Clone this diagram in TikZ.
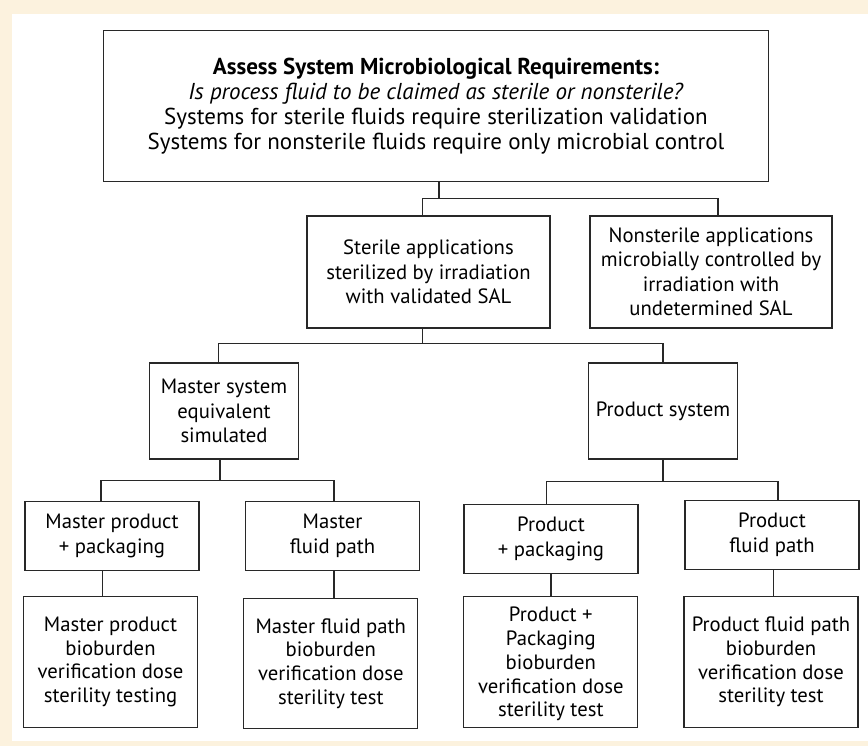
\documentclass[tikz,border=0pt]{standalone}
\usepackage{fontspec}
\setmainfont{PT Sans}
\definecolor{cream}{RGB}{252,242,222}
\definecolor{edge}{RGB}{40,40,40}
\begin{document}
\begin{tikzpicture}[x=1pt,y=1pt,
  box/.style={draw=edge,line width=1.3pt,fill=white,inner sep=0pt,align=center,
    font=\fontsize{20.7}{24.5}\selectfont},
  tall/.style={font=\fontsize{20.7}{23.8}\selectfont},
  conn/.style={draw=edge,line width=1.2pt}]
\useasboundingbox (0,0) rectangle (868,-746);
\fill[cream] (0,0) rectangle (868,-746);
\fill[white] (12,-14) rectangle (868,-741);

\node[box,minimum width=664.5,minimum height=151,font=\fontsize{23}{25}\selectfont] (top) at (436,-106)
  {\textbf{Assess System Microbiological Requirements:}\\
   \textit{Is process fluid to be claimed as sterile or nonsterile?}\\
   Systems for sterile fluids require sterilization validation\\
   Systems for nonsterile fluids require only microbial control};

\node[box,minimum width=243,minimum height=112] (sterile) at (428.5,-272)
  {Sterile applications\\sterilized by irradiation\\with validated SAL};
\node[box,minimum width=242,minimum height=112] (nonsterile) at (711,-272)
  {Nonsterile applications\\microbially controlled by\\irradiation with\\undetermined SAL};

\node[box,minimum width=149.5,minimum height=96] (master) at (224,-411)
  {Master system\\equivalent\\simulated};
\node[box,minimum width=149.5,minimum height=96] (product) at (663,-411)
  {Product system};

\node[box,minimum width=174,minimum height=69] (mpp) at (112,-536)
  {Master product\\+ packaging};
\node[box,minimum width=174,minimum height=69] (mfp) at (332.5,-536)
  {Master\\fluid path};
\node[box,minimum width=174,minimum height=69] (ppp) at (551,-538.7)
  {Product\\+ packaging};
\node[box,minimum width=174,minimum height=69] (pfp) at (772,-534.7)
  {Product\\fluid path};

\node[box,tall,minimum width=174,minimum height=130.6] (mpb) at (110.5,-662)
  {Master product\\bioburden\\verification dose\\sterility testing};
\node[box,tall,minimum width=174,minimum height=130.6] (mfb) at (330.8,-663.5)
  {Master fluid path\\bioburden\\verification dose\\sterility test};
\node[box,tall,minimum width=174,minimum height=130.6,text depth=0pt] (ppb) at (550.8,-662)
  {Product +\\Packaging\\bioburden\\verification dose\\sterility test};
\node[box,tall,minimum width=174,minimum height=130.6] (pfb) at (771,-662)
  {Product fluid path\\bioburden\\verification dose\\sterility test};

% top -> level 1
\coordinate (b1) at ([xshift=3]top.south |- 0,-198.3);
\draw[conn] ([xshift=3]top.south) -- (b1);
\draw[conn] ([xshift=-6]sterile.north) -- ([xshift=-6]sterile.north |- b1)
  -- ([xshift=7]nonsterile.north |- b1) -- ([xshift=7]nonsterile.north);

% sterile -> level 2
\coordinate (b2) at ([xshift=-6]sterile.south |- 0,-343.3);
\draw[conn] ([xshift=-6]sterile.south) -- (b2);
\draw[conn] ([xshift=-5.3]master.north) -- ([xshift=-5.3]master.north |- b2)
  -- (product.north |- b2) -- (product.north);

% master -> level 3
\coordinate (b3) at ([xshift=-4]master.south |- 0,-480.7);
\draw[conn] ([xshift=-4]master.south) -- (b3);
\draw[conn] ([xshift=-11]mpp.north) -- ([xshift=-11]mpp.north |- b3)
  -- ([xshift=1.5]mfp.north |- b3) -- ([xshift=1.5]mfp.north);

% product -> level 3
\coordinate (b4) at (product.south |- 0,-481.7);
\draw[conn] (product.south) -- (b4);
\draw[conn] ([xshift=-4.5]ppp.north) -- ([xshift=-4.5]ppp.north |- b4)
  -- ([xshift=6]pfp.north |- b4) -- ([xshift=6]pfp.north);

% level 3 -> level 4
\draw[conn] ([xshift=-9.6]mpp.south) -- ([xshift=-9.6]mpp.south |- mpb.north);
\draw[conn] ([xshift=1.5]mfp.south) -- ([xshift=1.5]mfp.south |- mfb.north);
\draw[conn] (ppp.south) -- (ppp.south |- ppb.north);
\draw[conn] ([xshift=1.5]pfp.south) -- ([xshift=1.5]pfp.south |- pfb.north);
\end{tikzpicture}
\end{document}
